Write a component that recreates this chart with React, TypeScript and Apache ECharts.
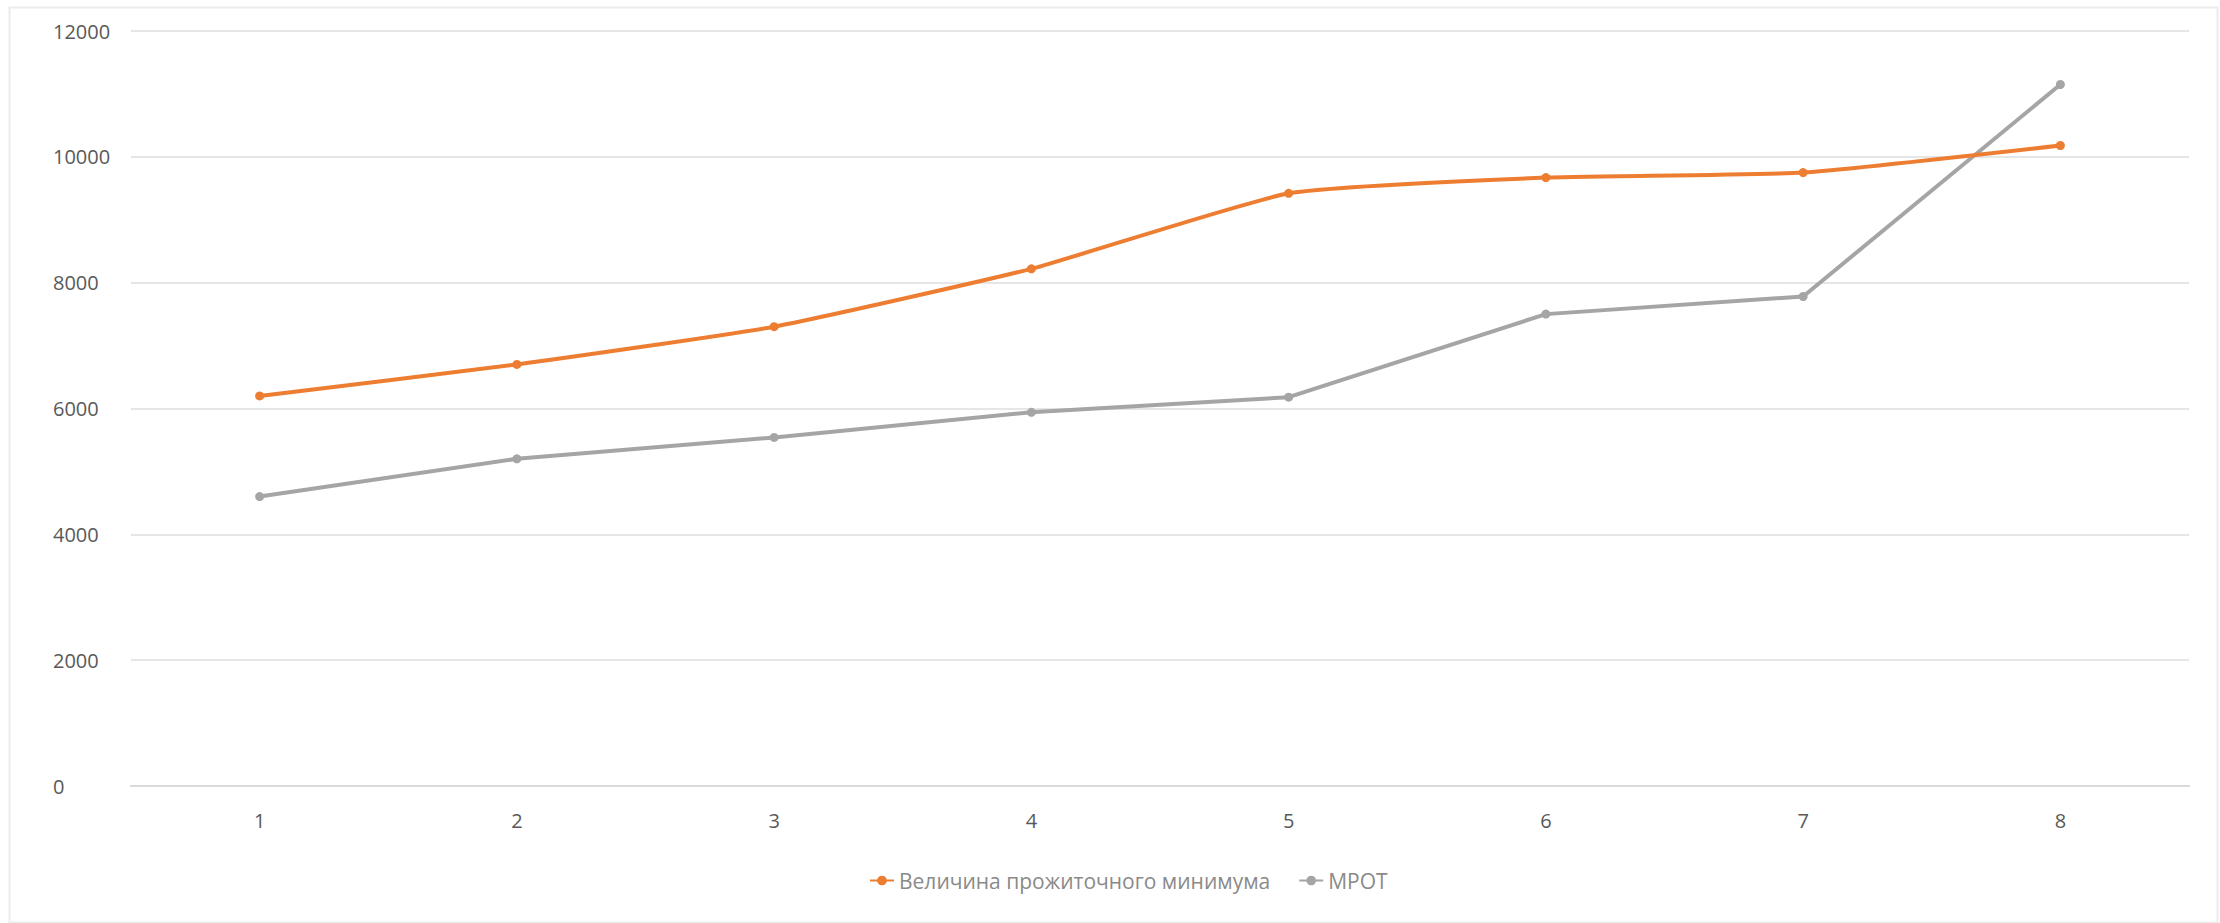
import React, { useEffect, useRef } from "react";
import * as echarts from "echarts";

const categories = ["1", "2", "3", "4", "5", "6", "7", "8"];
const subsistenceMinimum = [6200, 6700, 7300, 8220, 9420, 9670, 9750, 10180];
const minimumWage = [4600, 5200, 5540, 5940, 6180, 7500, 7780, 11150];
const seriesNames = ["Величина прожиточного минимума", "МРОТ"];

export default function App() {
  const ref = useRef<HTMLDivElement>(null);
  useEffect(() => {
    if (!ref.current) return;
    const chart = echarts.init(ref.current, null, { renderer: "svg" });
    const font = "'Open Sans', 'DejaVu Sans', sans-serif";
    chart.setOption({
      animation: false,
      backgroundColor: "#ffffff",
      textStyle: { fontFamily: font },
      grid: { left: 131, right: 31, top: 31, bottom: 137, containLabel: false },
      legend: {
        data: seriesNames,
        left: 864,
        top: 865,
        itemWidth: 24,
        itemHeight: 12,
        itemGap: 28,
        textStyle: { color: "#8a8a8a", fontSize: 21, fontFamily: font },
      },
      xAxis: {
        type: "category",
        data: categories,
        boundaryGap: true,
        axisLine: { lineStyle: { color: "#d9d9d9", width: 2 } },
        axisTick: { show: false },
        axisLabel: { color: "#595959", fontSize: 20, margin: 24, fontFamily: font },
      },
      yAxis: {
        type: "value",
        min: 0,
        max: 12000,
        interval: 2000,
        axisLine: { show: false },
        axisTick: { show: false },
        splitLine: { lineStyle: { color: "#e6e6e6", width: 2 } },
        axisLabel: {
          color: "#595959",
          fontSize: 20,
          margin: 78,
          align: "left",
          fontFamily: font,
          formatter: (v: number) => String(v),
        },
      },
      series: [
        {
          name: seriesNames[0],
          type: "line",
          data: subsistenceMinimum,
          smooth: 0.15,
          symbol: "circle",
          symbolSize: 9,
          lineStyle: { color: "#ED7D31", width: 4 },
          itemStyle: { color: "#ED7D31" },
          z: 3,
        },
        {
          name: seriesNames[1],
          type: "line",
          data: minimumWage,
          symbol: "circle",
          symbolSize: 9,
          lineStyle: { color: "#A5A5A5", width: 4 },
          itemStyle: { color: "#A5A5A5" },
          z: 2,
        },
      ],
      graphic: [
        {
          type: "rect",
          left: 7,
          top: 5,
          shape: { width: 2208, height: 915 },
          style: { fill: "none", stroke: "#ececec", lineWidth: 2 },
          silent: true,
        },
      ],
    });
    return () => chart.dispose();
  }, []);
  return (
    <div
      ref={ref}
      style={{ position: "fixed", left: 0, top: 0, width: 2220, height: 923 }}
    />
  );
}
